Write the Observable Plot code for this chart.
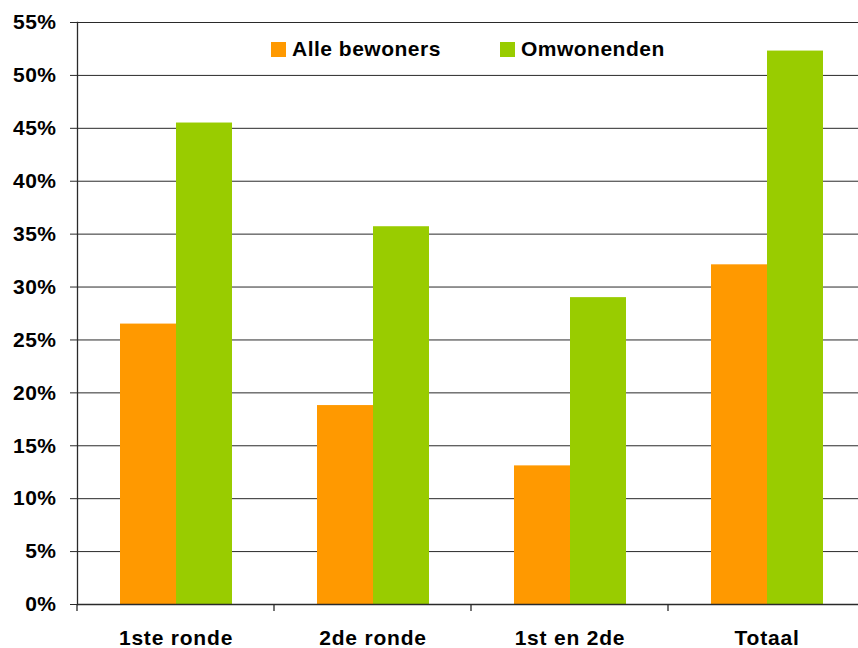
<!DOCTYPE html>
<html><head><meta charset="utf-8">
<script src="https://cdn.jsdelivr.net/npm/d3@7"></script>
<script src="https://cdn.jsdelivr.net/npm/@observablehq/plot@0.6"></script>
<style>
body{margin:0;background:#fff;overflow:hidden}
#wrap{position:relative;width:858px;height:648px;font-family:"Liberation Sans",Arial,sans-serif}
#wrap svg text{font-weight:bold;fill:#000}
#wrap svg g[aria-label="y-axis tick label"] text{letter-spacing:0.5px}
#wrap svg g[aria-label="fx-axis tick label"] text{letter-spacing:0.8px}
#legend{position:absolute;top:37px;left:271px;display:flex;align-items:center;font-weight:bold;font-size:21px;letter-spacing:0.5px;color:#000;white-space:nowrap}
#legend .item{display:flex;align-items:center;margin-right:59px}
#legend .sw{width:15px;height:15px;margin-right:6px}
</style></head>
<body><div id="wrap"><div id="legend"></div></div>
<script>
const categories = ["1ste ronde", "2de ronde", "1st en 2de", "Totaal"];
const series = ["Alle bewoners", "Omwonenden"];
const alleBewoners = [26.5, 18.8, 13.1, 32.1];
const omwonenden = [45.5, 35.7, 29.0, 52.3];
const yTicks = [0, 5, 10, 15, 20, 25, 30, 35, 40, 45, 50, 55];
const colors = ["#FF9900", "#99CC00"];

const data = [];
categories.forEach((c, i) => {
  data.push({cat: c, series: series[0], value: alleBewoners[i]});
  data.push({cat: c, series: series[1], value: omwonenden[i]});
});

const lineColor = "#2a2a2a";

const chart = Plot.plot({
  width: 858, height: 648,
  marginLeft: 76, marginRight: -7, marginTop: 22, marginBottom: 44,
  style: {fontFamily: "'Liberation Sans', Arial, sans-serif", background: "white"},
  fx: {domain: categories, padding: 0, label: null},
  x: {domain: series, paddingInner: 0, paddingOuter: 0.74, axis: null},
  y: {domain: [0, 55]},
  color: {domain: series, range: colors},
  marks: [
    Plot.ruleY(yTicks.slice(1), {stroke: lineColor, strokeWidth: 1}),
    Plot.barY(data, {fx: "cat", x: "series", y: "value", fill: "series"}),
    Plot.ruleY([0], {stroke: lineColor, strokeWidth: 1.3}),
    Plot.frame({anchor: "left", facetAnchor: "left", stroke: lineColor, strokeWidth: 1.3}),
    Plot.frame({anchor: "left", stroke: lineColor, render(index, scales, values, dims) {
      const x = dims.marginLeft, y = dims.height - dims.marginBottom;
      const g = d3.create("svg:g");
      g.append("line").attr("x1", x).attr("x2", x).attr("y1", y).attr("y2", y + 7)
        .attr("stroke", lineColor).attr("stroke-width", 1.3);
      return g.node();
    }}),
    Plot.axisY({ticks: yTicks, tickSize: 7, tickPadding: 14, tickFormat: d => d + "%", fontSize: 21, label: null, stroke: lineColor}),
    Plot.axisFx({anchor: "bottom", tickSize: 0, tickPadding: 26, fontSize: 21, label: null})
  ]
});
document.getElementById("wrap").prepend(chart);

const legend = d3.select("#legend");
series.forEach((s, i) => {
  const it = legend.append("div").attr("class", "item");
  it.append("div").attr("class", "sw").style("background", colors[i]);
  it.append("span").text(s);
});
</script></body></html>
